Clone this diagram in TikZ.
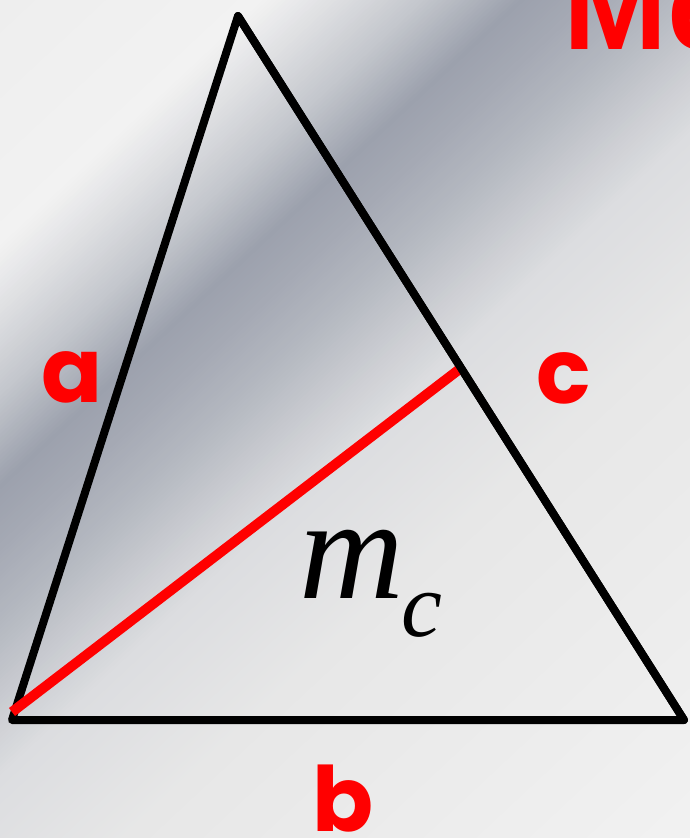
\documentclass[tikz,border=0pt]{standalone}
\usepackage{fontspec}
\usetikzlibrary{calc}
\newfontfamily\lblfont{Poppins}
\newfontfamily\serfont{Liberation Serif}
\newfontfamily\ttlfont{Liberation Sans}
\definecolor{bgA}{HTML}{EEEEEE}
\definecolor{bgB}{HTML}{F2F2F2}
\definecolor{bgC}{HTML}{DEDFE2}
\definecolor{bgD}{HTML}{C3C6CC}
\definecolor{bgE}{HTML}{9CA1AD}
\definecolor{bgF}{HTML}{A5A9B4}
\definecolor{bgG}{HTML}{B5B9C1}
\definecolor{bgH}{HTML}{CACCD1}
\definecolor{bgI}{HTML}{DCDDE0}
\definecolor{bgJ}{HTML}{E7E7E7}
\definecolor{bgK}{HTML}{F2F2F2}
\definecolor{medred}{HTML}{FF0000}
\tikzset{
  side/.style={line width=8pt, black, line join=round, line cap=round},
  median/.style={line width=10pt, medred},
  redlbl/.style={text=medred, inner sep=0pt, anchor=base, font=\lblfont\bfseries\fontsize{90}{92}\selectfont},
}
\begin{document}
\begin{tikzpicture}[x=1pt,y=-1pt]
\useasboundingbox (0,0) rectangle (690,838);
% background gradient stripes
\begin{scope}
\clip (0,0) rectangle (690,838);
\foreach \ta/\tb/\ca/\cb in {0/180/bgA/bgB, 180/230/bgB/bgC, 230/290/bgC/bgD, 290/355/bgD/bgE, 355/400/bgE/bgF, 400/460/bgF/bgG, 460/515/bgG/bgH, 515/570/bgH/bgI, 570/700/bgI/bgJ, 700/1100/bgJ/bgK}{
  \pgfmathtruncatemacro{\nn}{(\tb-\ta)/3}
  \pgfmathsetmacro{\stp}{(\tb-\ta)/\nn}
  \foreach \k in {1,...,\nn}{
    \pgfmathsetmacro{\tA}{\ta+(\k-1)*\stp}
    \pgfmathsetmacro{\tB}{\ta+\k*\stp+0.8}
    \pgfmathsetmacro{\pp}{100*(\k-0.5)/\nn}
    \fill[\cb!\pp!\ca] ({\tA*0.682+877},{\tA*0.731-818}) -- ({\tA*0.682-877},{\tA*0.731+818}) -- ({\tB*0.682-877},{\tB*0.731+818}) -- ({\tB*0.682+877},{\tB*0.731-818}) -- cycle;
  }
}
\end{scope}
% title fragment (cut by the page edge)
\node[anchor=base west, inner sep=0pt, text=medred, font=\ttlfont\bfseries\fontsize{125}{127}\selectfont] (title) at (563,49) {Ме};
% triangle
\coordinate (A) at (238,16);
\coordinate (B) at (12,720);
\coordinate (C) at (684,720);
\coordinate (M) at ($(A)!0.5!(C)$);
\coordinate (R) at (12,712);
\draw[side] (A) -- (B) -- (C) -- cycle;
\draw[median] (R) -- (M);
\draw[side] (A) -- (C);
% labels
\node[redlbl] (la) at (72,402) {a};
\node[redlbl] (lc) at (564,403) {c};
\node[redlbl] (lb) at (343,831) {b};
\node[inner sep=0pt, anchor=base, font=\serfont\itshape\fontsize{145}{147}\selectfont] (mm) at (352,598) {m};
\node[inner sep=0pt, anchor=base, font=\serfont\itshape\fontsize{92}{94}\selectfont] (mc) at (422,636) {c};
\end{tikzpicture}
\end{document}
